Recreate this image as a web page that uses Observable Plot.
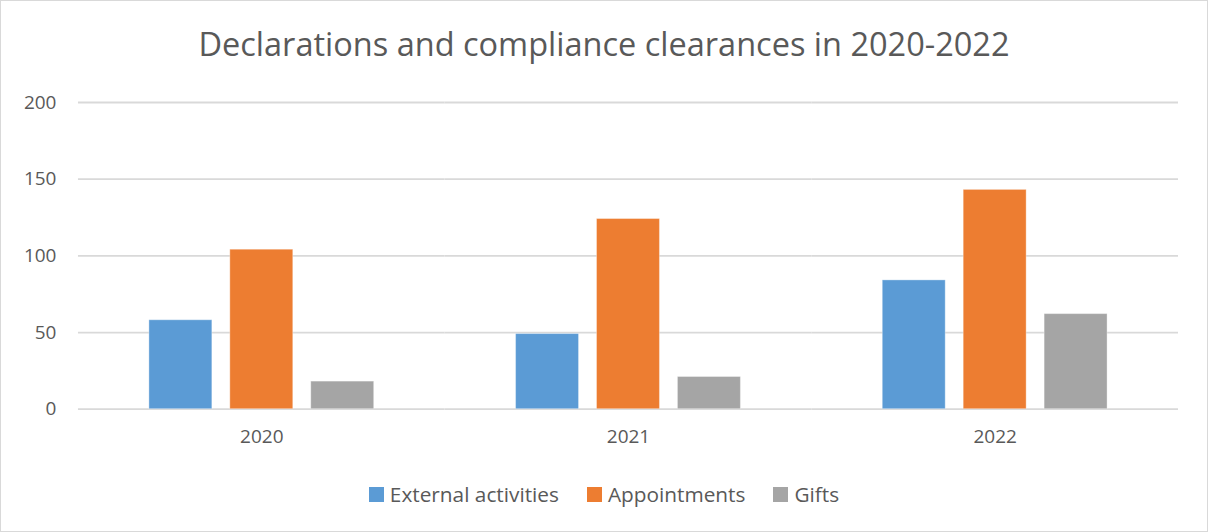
<!DOCTYPE html>
<html>
<head>
<meta charset="utf-8">
<script src="https://cdn.jsdelivr.net/npm/d3@7"></script>
<script src="https://cdn.jsdelivr.net/npm/@observablehq/plot@0.6"></script>
<style>
  html, body { margin: 0; padding: 0; background: #fff; }
  #frame { position: relative; width: 1206px; height: 530px; border: 1px solid #d9d9d9; overflow: hidden; font-family: "Open Sans", sans-serif; color: #595959; }
  #title { position: absolute; left: 0; top: 0; width: 1206px; height: 80px; text-align: center; font-size: 32.5px; line-height: 86px; color: #595959; }
  #chart { position: absolute; left: -1px; top: 79px; }
  #legend { position: absolute; left: 0; top: 479px; width: 1206px; display: flex; justify-content: center; align-items: center; font-size: 20.8px; color: #595959; }
  .item { display: flex; align-items: center; margin: 0 14px; }
  .sw { width: 15px; height: 15px; margin-right: 6px; }
</style>
</head>
<body>
<div id="frame">
  <div id="title">Declarations and compliance clearances in 2020-2022</div>
  <div id="chart"></div>
  <div id="legend"></div>
</div>
<script>
const years = ["2020", "2021", "2022"];
const series = ["External activities", "Appointments", "Gifts"];
const externalActivities = [58, 49, 84];
const appointments = [104, 124, 143];
const gifts = [18, 21, 62];
const yTicks = [0, 50, 100, 150, 200];
const colors = ["#5b9bd5", "#ed7d31", "#a5a5a5"];

const valuesBySeries = [externalActivities, appointments, gifts];
const data = [];
years.forEach((yr, i) => {
  series.forEach((s, j) => data.push({year: yr, series: s, value: valuesBySeries[j][i]}));
});

const chart = Plot.plot({
  width: 1208,
  height: 380,
  marginLeft: 77,
  marginRight: 28,
  marginTop: 22,
  marginBottom: 51,
  style: {fontFamily: "'Open Sans', sans-serif", fontSize: "19px", color: "#595959", background: "transparent"},
  fx: {domain: years, padding: 0, label: null, tickSize: 0, tickPadding: 20},
  x: {domain: series, paddingInner: 0.22, paddingOuter: 0.85, axis: null},
  y: {domain: [0, 200], ticks: yTicks, tickSize: 0, tickPadding: 22, label: null},
  color: {domain: series, range: colors},
  marks: [
    Plot.ruleY(yTicks, {stroke: "#d9d9d9", strokeWidth: 1.8}),
    Plot.barY(data, {fx: "year", x: "series", y: "value", fill: "series", stroke: "#ffffff", strokeOpacity: 0.35, strokeWidth: 1})
  ]
});
document.getElementById("chart").appendChild(chart);

const legend = document.getElementById("legend");
series.forEach((s, i) => {
  const it = document.createElement("div");
  it.className = "item";
  const sw = document.createElement("div");
  sw.className = "sw";
  sw.style.background = colors[i];
  const t = document.createElement("span");
  t.textContent = s;
  it.appendChild(sw); it.appendChild(t);
  legend.appendChild(it);
});
</script>
</body>
</html>
